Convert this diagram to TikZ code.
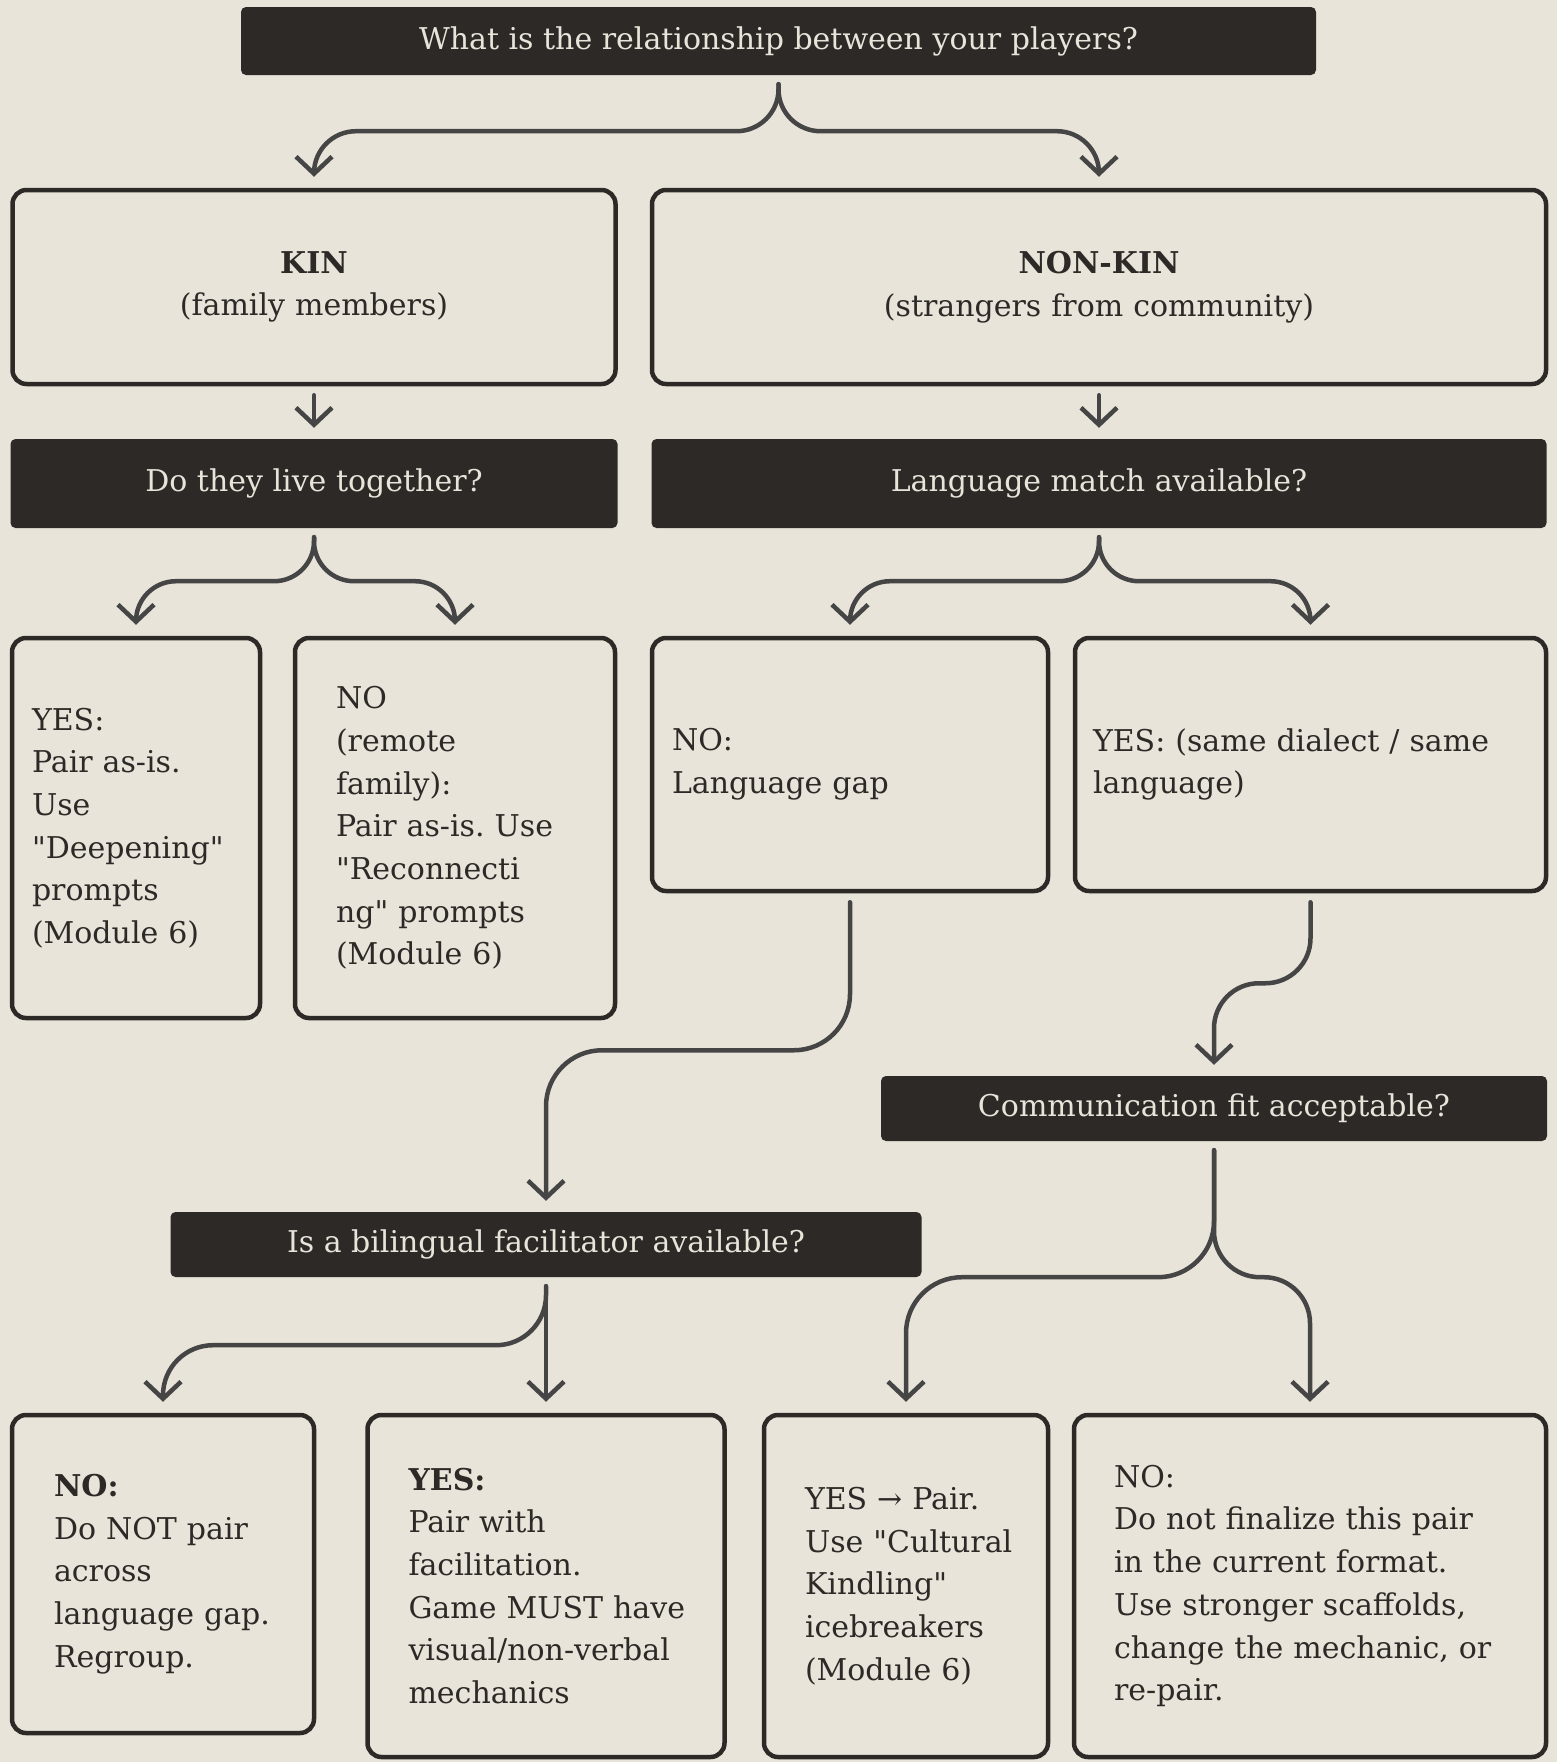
\documentclass[tikz,border=0pt]{standalone}
\usepackage{fontspec}
\setmainfont{DejaVu Serif}[Ligatures=TeXOff]
\usetikzlibrary{arrows.meta}
\definecolor{paper}{HTML}{E8E4DA}
\definecolor{ink}{HTML}{2D2926}
\definecolor{wire}{HTML}{454545}
\hyphenpenalty=10000
\exhyphenpenalty=10000
\begin{document}
\begin{tikzpicture}[x=1pt,y=1pt,font=\fontsize{30}{42.7}\selectfont,
  ask/.style 2 args={fill=ink,text=paper,rounded corners=5pt,inner sep=0pt,minimum width=#1,minimum height=#2},
  card/.style n args={3}{draw=ink,line width=4.5pt,rounded corners=14pt,text=ink,inner sep=0pt,align=left,minimum width=#1,minimum height=#2,text width=#3},
  arr/.style={draw=wire,line width=4.5pt,line cap=round,line join=round,-{Straight Barb[length=17pt,width=36pt]}}]
  \useasboundingbox (0,0) rectangle (1557,-1762);
  \fill[paper] (0,0) rectangle (1557,-1762);
  \node[ask={1075}{68}] (q0) at (778.5,-41) {What is the relationship between your players?};
  \node[card={603}{194}{560},align=center] (kin) at (314,-287) {\textbf{KIN}\\(family members)};
  \node[card={894}{194}{850},align=center] (nonkin) at (1099,-287) {\textbf{NON-KIN}\\(strangers from community)};
  \node[ask={607}{89}] (q1) at (314,-483.5) {Do they live together?};
  \node[ask={895}{89}] (q2) at (1099,-483.5) {Language match available?};
  \node[card={248}{380}{208}] (yes1) at (136,-828) {YES:\\Pair as-is.\\Use\\"Deepening"\\prompts\\(Module 6)};
  \node[card={320}{380}{238}] (no1) at (455,-828) {NO\\(remote\\family):\\Pair as-is.~Use\\"Reconnecti\\ng"~prompts\\(Module 6)};
  \node[card={396}{253}{356}] (no2) at (850,-764.5) {NO:\\Language gap};
  \node[card={471}{253}{435}] (yes2) at (1310.5,-764.5) {YES: (same dialect / same\\language)};
  \node[ask={666}{65}] (q3) at (1214,-1108.5) {Communication fit acceptable?};
  \node[ask={751}{65}] (q4) at (546,-1244.5) {Is a bilingual facilitator available?};
  \node[card={302}{318}{218}] (no3) at (163,-1574) {\textbf{NO:}\\Do NOT pair\\across\\language~gap.\\Regroup.};
  \node[card={357}{342}{275}] (yes3) at (546,-1586) {\textbf{YES:}\\Pair with\\facilitation.\\Game~MUST~have\\visual/non-verbal\\mechanics};
  \node[card={284}{342}{202}] (yes4) at (906,-1586) {YES → Pair.\\Use~"Cultural\\Kindling"\\icebreakers\\(Module 6)};
  \node[card={472}{342}{392}] (no4) at (1310,-1586) {NO:\\Do not finalize this pair\\in the current format.\\Use stronger scaffolds,\\change the mechanic, or\\re-pair.};
  \foreach \a/\b/\h/\r in {q0/kin/47/42, q0/nonkin/47/42, q1/yes1/44/40, q1/no1/44/40, q2/no2/44/40, q2/yes2/44/40,
      no2/q4/148/56, yes2/q3/81/45, q3/yes4/127/56, q3/no4/127/46, q4/no3/59/50}
    \draw[arr,rounded corners=\r pt] ([yshift=-9pt]\a.south) -- ++(0,-\h) -| ([yshift=11pt]\b.north);
  \foreach \a/\b in {kin/q1, nonkin/q2, q4/yes3}
    \draw[arr] ([yshift=-9pt]\a.south) -- ([yshift=11pt]\b.north);
\end{tikzpicture}
\end{document}
